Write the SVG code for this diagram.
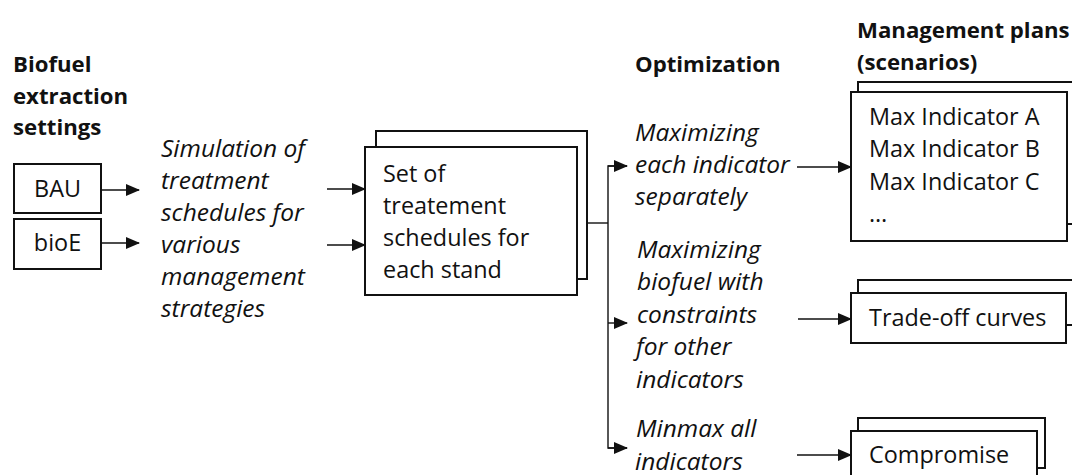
<svg xmlns="http://www.w3.org/2000/svg" width="1072" height="475" viewBox="0 0 1072 475">
<style>
text{font-family:"Open Sans","Noto Sans","Liberation Sans",sans-serif;font-size:23.4px;fill:#111}
.b{font-weight:bold;font-size:22.2px}
.i{font-style:italic;font-size:24.5px}
.box{fill:#fff;stroke:#111;stroke-width:2}
.ln{fill:none;stroke:#111;stroke-width:1.4}
</style>
<defs>
<marker id="ah" markerUnits="userSpaceOnUse" markerWidth="14" markerHeight="12" refX="13" refY="6" orient="auto">
<path d="M0,0 L14,6 L0,12 Z" fill="#111"/>
</marker>
</defs>
<rect width="1072" height="475" fill="#fff"/>

<g id="titles">
<text class="b" x="13" y="72">Biofuel</text>
<text class="b" x="13" y="104">extraction</text>
<text class="b" x="13" y="135">settings</text>
<text class="b" x="635" y="72">Optimization</text>
<text class="b" x="857" y="38">Management plans</text>
<text class="b" x="857" y="70">(scenarios)</text>
</g>

<g id="bau">
<rect class="box" x="14" y="164" width="87" height="49"/>
<text x="57.5" y="197" text-anchor="middle">BAU</text>
</g>
<g id="bioe">
<rect class="box" x="14" y="219" width="87" height="50"/>
<text x="57.5" y="251" text-anchor="middle">bioE</text>
</g>

<g id="simulation">
<text class="i" x="161" y="157">Simulation of</text>
<text class="i" x="161" y="189">treatment</text>
<text class="i" x="161" y="221">schedules for</text>
<text class="i" x="161" y="253">various</text>
<text class="i" x="161" y="285">management</text>
<text class="i" x="161" y="317">strategies</text>
</g>

<g id="set">
<rect class="box" x="376" y="131" width="211" height="148"/>
<rect class="box" x="365" y="147" width="212" height="148"/>
<text x="383" y="182">Set of</text>
<text x="383" y="214">treatement</text>
<text x="383" y="246">schedules for</text>
<text x="383" y="278">each stand</text>
</g>

<g id="opt1">
<text class="i" x="635" y="141">Maximizing</text>
<text class="i" x="635" y="173">each indicator</text>
<text class="i" x="635" y="205">separately</text>
</g>
<g id="opt2">
<text class="i" x="637" y="258">Maximizing</text>
<text class="i" x="637" y="290">biofuel with</text>
<text class="i" x="637" y="323">constraints</text>
<text class="i" x="636" y="355">for other</text>
<text class="i" x="636" y="388">indicators</text>
</g>
<g id="opt3">
<text class="i" x="636" y="437">Minmax all</text>
<text class="i" x="635" y="470">indicators</text>
</g>

<g id="maxplans">
<rect class="box" x="858" y="82" width="230" height="142"/>
<rect class="box" x="851" y="92" width="216" height="149"/>
<text x="869" y="125">Max Indicator A</text>
<text x="869" y="157">Max Indicator B</text>
<text x="869" y="190">Max Indicator C</text>
<text x="869" y="222">…</text>
</g>
<g id="tradeoff">
<rect class="box" x="858" y="280" width="230" height="45"/>
<rect class="box" x="851" y="293" width="215" height="50"/>
<text x="869" y="326">Trade-off curves</text>
</g>
<g id="compromise">
<rect class="box" x="858" y="418" width="187" height="50"/>
<rect class="box" x="851" y="431" width="186" height="60"/>
<text x="869" y="463">Compromise</text>
</g>

<g id="connectors">
<line class="ln" x1="101" y1="190" x2="139" y2="190" marker-end="url(#ah)"/>
<line class="ln" x1="101" y1="243" x2="139" y2="243" marker-end="url(#ah)"/>
<line class="ln" x1="327" y1="189" x2="365" y2="189" marker-end="url(#ah)"/>
<line class="ln" x1="327" y1="245" x2="365" y2="245" marker-end="url(#ah)"/>
<polyline class="ln" points="587,223 608,223"/>
<polyline class="ln" points="627,166 608,166 608,448 627,448"/>
<line class="ln" x1="608" y1="166" x2="627" y2="166" marker-end="url(#ah)"/>
<line class="ln" x1="608" y1="323" x2="627" y2="323" marker-end="url(#ah)"/>
<line class="ln" x1="608" y1="448" x2="627" y2="448" marker-end="url(#ah)"/>
<line class="ln" x1="797" y1="167" x2="851" y2="167" marker-end="url(#ah)"/>
<line class="ln" x1="798" y1="319" x2="851" y2="319" marker-end="url(#ah)"/>
<line class="ln" x1="797" y1="455" x2="851" y2="455" marker-end="url(#ah)"/>
</g>
</svg>
